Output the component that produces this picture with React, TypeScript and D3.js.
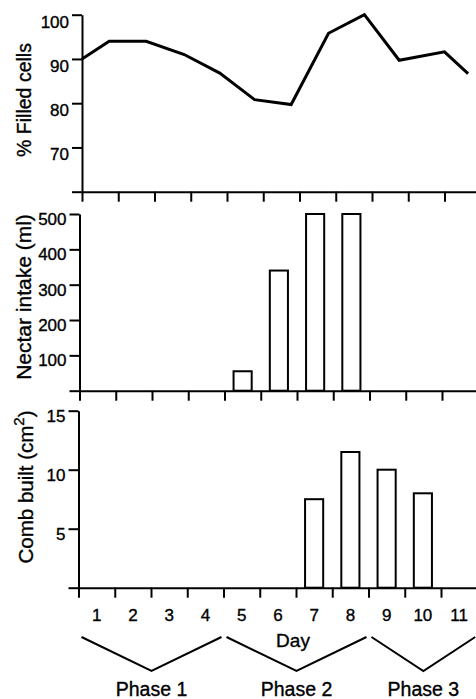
//@ts-nocheck
import React, { useRef, useEffect } from 'react'
import * as d3 from 'd3'

// days on the x axis
const days = [1, 2, 3, 4, 5, 6, 7, 8, 9, 10, 11]

// % filled cells (line), x in day units
const filledDay = [0.5, 1.25, 2.27, 3.32, 4.3, 5.26, 6.27, 7.3, 8.29, 9.25, 10.5, 11.15]
const filledPct = [90, 94, 94, 91, 86.8, 80.8, 79.7, 95.8, 100, 89.7, 91.6, 86.7]
const filledTicks = [60, 70, 80, 90, 100]

// nectar intake (ml) per day
const nectarMl = [0, 0, 0, 0, 55, 340, 500, 500, 0, 0, 0]
const nectarTicks = [0, 100, 200, 300, 400, 500]

// comb built (cm2) per day
const combCm2 = [0, 0, 0, 0, 0, 0, 7.5, 11.5, 10, 8, 0]
const combTicks = [0, 5, 10, 15]

// phases
const phaseNames = ['Phase 1', 'Phase 2', 'Phase 3']
const phaseStart = [1, 5, 9]
const phaseEnd = [4, 8, 11]

const FONT = '"Liberation Sans", Arial, Helvetica, sans-serif'
const TEXT_STROKE = 0.35

const App = () => {
  const node = useRef<SVGSVGElement | null>(null)

  useEffect(() => {
    document.body.style.margin = '0'
    const width = 476
    const height = 699
    const step = 36.25

    const svg = d3.select(node.current)
    svg.selectAll('*').remove()
    svg.attr('width', width).attr('height', height).attr('font-family', FONT)

    const panels = [
      { left: 82, top: 14.7, bottom: 191.7, domain: [60, 100], ticks: filledTicks, labelDy: 12.3 },
      { left: 79.5, top: 214, bottom: 390.7, domain: [0, 500], ticks: nectarTicks, labelDy: 10.6 },
      { left: 78.5, top: 410.7, bottom: 587.7, domain: [0, 15], ticks: combTicks, labelDy: 10.6 }
    ]

    const scales = panels.map((p) => {
      const x = d3.scaleLinear().domain([0.5, 11.5]).range([p.left, p.left + 11 * step])
      const band = d3
        .scaleBand()
        .domain(days)
        .range([p.left, p.left + 11 * step])
        .paddingInner(0.5)
        .paddingOuter(0.25)
      const y = d3.scaleLinear().domain(p.domain).range([p.bottom, p.top])
      return { x, band, y }
    })

    panels.forEach((p, i) => {
      const { x, y } = scales[i]
      const yAxis = d3
        .axisLeft(y)
        .tickValues(p.ticks)
        .tickSize(10)
        .tickSizeOuter(0)
        .tickPadding(3)
        .tickFormat((d) => (d === p.domain[0] ? '' : d))
      const gy = svg.append('g').attr('transform', `translate(${p.left},0)`).call(yAxis)
      gy.selectAll('path, line').attr('stroke', '#000').attr('stroke-width', 2)
      gy.selectAll('text')
        .attr('dy', p.labelDy)
        .attr('font-size', 17)
        .attr('font-family', FONT)
        .attr('fill', '#000')
        .attr('stroke', '#000')
        .attr('stroke-width', TEXT_STROKE)

      const xAxis = d3
        .axisBottom(x)
        .tickValues(d3.range(0.5, 12, 1))
        .tickSize(10)
        .tickSizeOuter(0)
        .tickFormat('')
      const gx = svg.append('g').attr('transform', `translate(0,${p.bottom})`).call(xAxis)
      gx.selectAll('path, line').attr('stroke', '#000').attr('stroke-width', 2)
    })

    // top panel line
    {
      const { x, y } = scales[0]
      const line = d3
        .line()
        .x((d) => x(d[0]))
        .y((d) => y(d[1]))
      svg
        .append('path')
        .attr('d', line(filledDay.map((d, k) => [d, filledPct[k]])))
        .attr('fill', 'none')
        .attr('stroke', '#000')
        .attr('stroke-width', 3)
    }

    // bars
    const drawBars = (values, s) => {
      svg
        .append('g')
        .selectAll('rect')
        .data(days.map((d, k) => ({ day: d, v: values[k] })).filter((d) => d.v > 0))
        .join('rect')
        .attr('x', (d) => s.band(d.day))
        .attr('y', (d) => s.y(d.v))
        .attr('width', s.band.bandwidth())
        .attr('height', (d) => s.y(0) - s.y(d.v))
        .attr('fill', '#fff')
        .attr('stroke', '#000')
        .attr('stroke-width', 2)
    }
    drawBars(nectarMl, scales[1])
    drawBars(combCm2, scales[2])

    const txt = (sel) => sel.attr('fill', '#000').attr('stroke', '#000').attr('stroke-width', TEXT_STROKE)

    // y titles
    const title = (tx, ty, size) =>
      svg
        .append('text')
        .attr('transform', `translate(${tx},${ty}) rotate(-90)`)
        .attr('text-anchor', 'middle')
        .attr('font-size', size)
        .call(txt)
    title(30.5, 100, 19.5).text('% Filled cells')
    title(31, 297, 21).text('Nectar intake (ml)')
    const comb = title(33, 487, 20.5)
    comb.append('tspan').text('Comb built (cm')
    comb.append('tspan').attr('dy', -9).attr('font-size', 15).text('2')
    comb.append('tspan').attr('dy', 9).text(')')

    // day labels
    const bottom = scales[2]
    svg
      .append('g')
      .selectAll('text')
      .data(days)
      .join('text')
      .attr('x', (d) => bottom.band(d) + bottom.band.bandwidth() / 2)
      .attr('y', 621)
      .attr('text-anchor', 'middle')
      .attr('font-size', 17)
      .call(txt)
      .text((d) => d)

    svg
      .append('text')
      .attr('x', bottom.x(6.5) - 3)
      .attr('y', 647)
      .attr('text-anchor', 'middle')
      .attr('font-size', 19)
      .call(txt)
      .text('Day')

    // phase brackets
    const vLine = d3.line()
    phaseNames.forEach((name, k) => {
      const x0 = bottom.x(phaseStart[k] - 0.5) + 3
      const x1 = bottom.x(phaseEnd[k] + 0.5) - 2
      const xm = (x0 + x1) / 2
      svg
        .append('path')
        .attr('d', vLine([[x0, 637], [xm, 671], [x1, 637]]))
        .attr('fill', 'none')
        .attr('stroke', '#000')
        .attr('stroke-width', 2)
      svg
        .append('text')
        .attr('x', xm)
        .attr('y', 696)
        .attr('text-anchor', 'middle')
        .attr('font-size', 19.5)
        .call(txt)
        .text(name)
    })
  }, [])

  return <svg ref={node} style={{ display: 'block' }}></svg>
}

export default App
